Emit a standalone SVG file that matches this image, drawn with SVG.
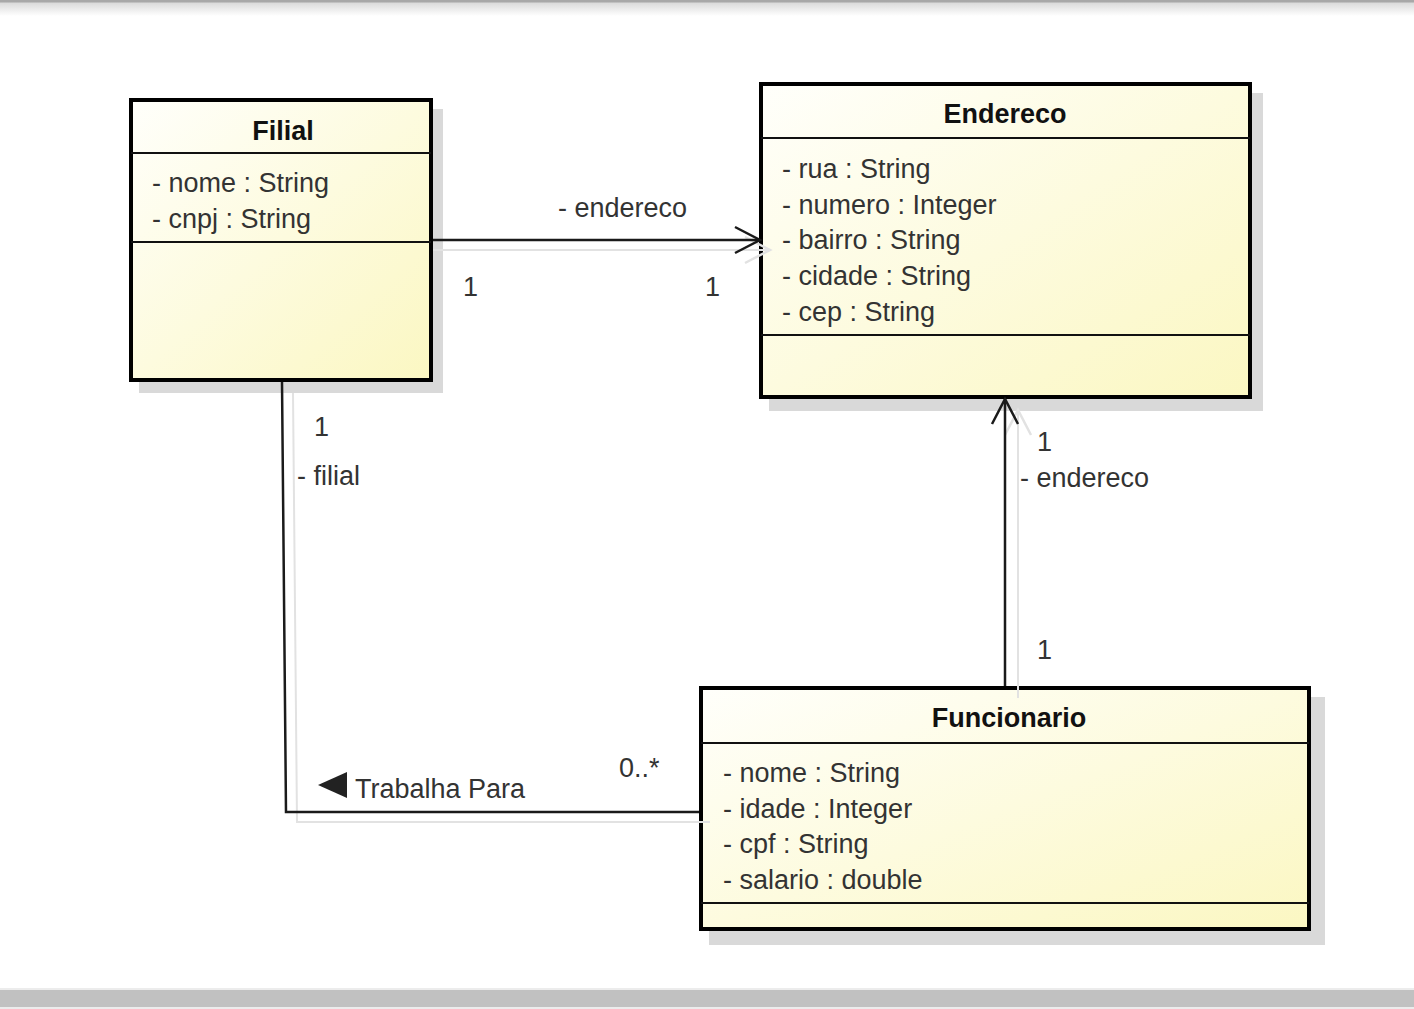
<svg xmlns="http://www.w3.org/2000/svg" width="1414" height="1009" viewBox="0 0 1414 1009">
<defs>
<linearGradient id="fill" x1="0" y1="0" x2="1" y2="1">
<stop offset="0" stop-color="#fffffb"/>
<stop offset="1" stop-color="#fbf7c2"/>
</linearGradient>
<linearGradient id="topShade" x1="0" y1="0" x2="0" y2="1">
<stop offset="0" stop-color="#d8d8d8"/>
<stop offset="1" stop-color="#ffffff"/>
</linearGradient>
<marker id="open" viewBox="-28 -16 32 32" refX="0" refY="0" markerWidth="32" markerHeight="32" markerUnits="userSpaceOnUse" orient="auto">
<path d="M-25,-13 L0,0 L-25,13" fill="none" stroke="#1a1a1a" stroke-width="2.5"/>
</marker>
<marker id="openShadow" viewBox="-28 -16 32 32" refX="0" refY="0" markerWidth="32" markerHeight="32" markerUnits="userSpaceOnUse" orient="auto">
<path d="M-25,-13 L0,0 L-25,13" fill="none" stroke="#e2e2e2" stroke-width="2.5"/>
</marker>
</defs>
<style>
.box{fill:url(#fill);stroke:#000;stroke-width:4}
.shadow{fill:#d9d9d9}
.sep{stroke:#111;stroke-width:2}
.title{font-family:"Liberation Sans",Arial,sans-serif;font-size:27px;font-weight:bold;fill:#111;text-anchor:middle}
.attr{font-family:"Liberation Sans",Arial,sans-serif;font-size:27px;fill:#333}
.lbl{font-family:"Liberation Sans",Arial,sans-serif;font-size:27px;fill:#333}
.line{fill:none;stroke:#1a1a1a;stroke-width:2.5}
.lineShadow{fill:none;stroke:#e2e2e2;stroke-width:2}
</style>
<rect x="0" y="0" width="1414" height="1009" fill="#ffffff"/>
<rect x="0" y="2" width="1414" height="14" fill="url(#topShade)"/>
<rect x="0" y="0" width="1414" height="2.5" fill="#a8a8a8"/>
<rect x="0" y="988" width="1414" height="21" fill="#ececec"/>
<rect x="0" y="990" width="1414" height="17" fill="#c1c1c1"/>

<g id="Filial">
<rect class="shadow" x="139" y="109" width="304" height="284"/>
<rect class="box" x="131" y="100" width="300" height="280"/>
<line class="sep" x1="131" y1="153" x2="431" y2="153"/>
<line class="sep" x1="131" y1="242" x2="431" y2="242"/>
<text class="title" x="283" y="140">Filial</text>
<text class="attr" x="152" y="192">- nome : String</text>
<text class="attr" x="152" y="228">- cnpj : String</text>
</g>

<g id="Endereco">
<rect class="shadow" x="769" y="93" width="494" height="318"/>
<rect class="box" x="761" y="84" width="489" height="313"/>
<line class="sep" x1="761" y1="138" x2="1250" y2="138"/>
<line class="sep" x1="761" y1="335" x2="1250" y2="335"/>
<text class="title" x="1005" y="123">Endereco</text>
<text class="attr" x="782" y="178">- rua : String</text>
<text class="attr" x="782" y="214">- numero : Integer</text>
<text class="attr" x="782" y="249">- bairro : String</text>
<text class="attr" x="782" y="285">- cidade : String</text>
<text class="attr" x="782" y="321">- cep : String</text>
</g>

<g id="Funcionario">
<rect class="shadow" x="709" y="697" width="616" height="248"/>
<rect class="box" x="701" y="688" width="608" height="241"/>
<line class="sep" x1="701" y1="743" x2="1309" y2="743"/>
<line class="sep" x1="701" y1="903" x2="1309" y2="903"/>
<text class="title" x="1009" y="727">Funcionario</text>
<text class="attr" x="723" y="782">- nome : String</text>
<text class="attr" x="723" y="818">- idade : Integer</text>
<text class="attr" x="723" y="853">- cpf : String</text>
<text class="attr" x="723" y="889">- salario : double</text>
</g>

<g id="connectors">
<g id="filial-endereco">
<line class="lineShadow" x1="433" y1="250" x2="770" y2="250" marker-end="url(#openShadow)"/>
<line class="line" x1="433" y1="240" x2="760" y2="240" marker-end="url(#open)"/>
<text class="lbl" x="558" y="217">- endereco</text>
<text class="lbl" x="463" y="296">1</text>
<text class="lbl" x="705" y="296">1</text>
</g>
<g id="funcionario-endereco">
<line class="lineShadow" x1="1018" y1="698" x2="1018" y2="410" marker-end="url(#openShadow)"/>
<line class="line" x1="1005" y1="686" x2="1005" y2="399" marker-end="url(#open)"/>
<text class="lbl" x="1037" y="451">1</text>
<text class="lbl" x="1020" y="487">- endereco</text>
<text class="lbl" x="1037" y="659">1</text>
</g>
<g id="filial-funcionario">
<polyline class="lineShadow" points="293,393 297,822 710,822"/>
<polyline class="line" points="282,382 286,812 699,812"/>
<text class="lbl" x="314" y="436">1</text>
<text class="lbl" x="297" y="485">- filial</text>
<text class="lbl" x="619" y="777">0..*</text>
<polygon points="318,785 347,772 347,798" fill="#222"/>
<text class="lbl" x="355" y="798">Trabalha Para</text>
</g>
</g>
</svg>
